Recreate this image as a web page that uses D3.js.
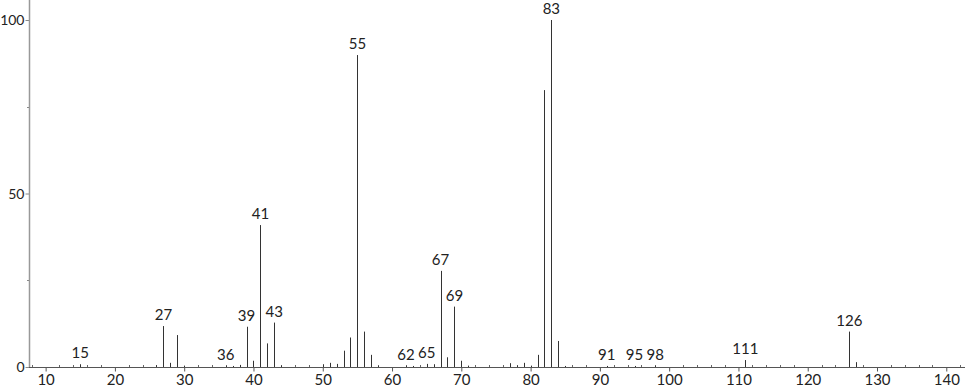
<!DOCTYPE html>
<html>
<head>
<meta charset="utf-8">
<script src="https://cdn.jsdelivr.net/npm/d3@7"></script>
<style>
  body { margin: 0; background: #fff; }
  svg text { font-family: "Lato", "DejaVu Sans", sans-serif; fill: #222; }
</style>
</head>
<body>
<svg id="chart" width="966" height="389"></svg>
<script>
// m/z and relative intensity
var mz = [15, 26, 27, 28, 29, 30, 36, 37, 38, 39, 40, 41, 42, 43, 44,
          50, 51, 52, 53, 54, 55, 56, 57, 58, 62, 63, 65, 66, 67, 68, 69, 70, 71,
          77, 78, 79, 80, 81, 82, 83, 84, 85, 91, 95, 98, 111, 126, 127];
var intensity = [0.8, 0.5, 11.8, 1.2, 9.2, 0.4, 0.3, 0.3, 0.6, 11.6, 1.8, 40.9, 6.8, 12.8, 0.4,
                 0.8, 1.2, 0.9, 4.7, 8.5, 89.9, 10.2, 3.5, 0.3, 0.3, 0.3, 0.9, 0.8, 27.7, 2.8, 17.4, 1.8, 0.4,
                 1.1, 0.4, 1.2, 0.4, 3.5, 79.8, 100, 7.5, 0.3, 0.3, 0.3, 0.3, 2.0, 10.2, 1.4];
var labelled = [15, 27, 36, 39, 41, 43, 55, 62, 65, 67, 69, 83, 91, 95, 98, 111, 126];
var xTicks = [10, 20, 30, 40, 50, 60, 70, 80, 90, 100, 110, 120, 130, 140];
var yTicks = [0, 50, 100];

var data = mz.map(function(d, i) { return {mz: d, v: intensity[i]}; });

var svg = d3.select("#chart");
var x = d3.scaleLinear().domain([7.6, 142.7]).range([29, 965]);
var y = d3.scaleLinear().domain([0, 100]).range([367, 20]);

// y axis
var yAxis = d3.axisLeft(y).tickValues(yTicks).tickSize(4).tickPadding(1).tickFormat(d3.format("d"));
var gy = svg.append("g").attr("transform", "translate(29.5,0)").call(yAxis);
gy.select(".domain").remove();
gy.append("line").attr("x1", 0).attr("x2", 0).attr("y1", 0).attr("y2", 367)
  .attr("stroke", "#999").attr("stroke-width", 1.5);
gy.selectAll(".tick line").attr("stroke", "#888");
gy.selectAll("text").style("font-size", "14px").attr("dy", "0.35em");
svg.append("g").selectAll("line").data([25, 75]).enter().append("line")
  .attr("x1", 27).attr("x2", 29)
  .attr("y1", function(d) { return Math.round(y(d)) + 0.5; })
  .attr("y2", function(d) { return Math.round(y(d)) + 0.5; })
  .attr("stroke", "#888");

// x axis
var xAxis = d3.axisBottom(x).tickValues(xTicks).tickSize(4).tickPadding(3).tickFormat(d3.format("d"));
var gx = svg.append("g").attr("transform", "translate(0,367.5)").call(xAxis);
gx.select(".domain").remove();
gx.append("line").attr("x1", 29).attr("x2", 965).attr("stroke", "#555");
gx.selectAll(".tick line").attr("stroke", "#555");
gx.selectAll("text").style("font-size", "15px");
// minor ticks
var minor = d3.range(8, 143, 2).filter(function(d) { return d % 10 !== 0; });
svg.append("g").selectAll("line").data(minor).enter().append("line")
  .attr("x1", function(d) { return Math.round(x(d)) + 0.5; })
  .attr("x2", function(d) { return Math.round(x(d)) + 0.5; })
  .attr("y1", 365).attr("y2", 367)
  .attr("stroke", "#666");

// peaks
svg.append("g").selectAll("line").data(data).enter().append("line")
  .attr("x1", function(d) { return Math.round(x(d.mz)) + 0.5; })
  .attr("x2", function(d) { return Math.round(x(d.mz)) + 0.5; })
  .attr("y1", 367)
  .attr("y2", function(d) { return y(d.v); })
  .attr("stroke", "#333").attr("stroke-width", 1);

// peak labels
svg.append("g").selectAll("text").data(data.filter(function(d) { return labelled.indexOf(d.mz) >= 0; }))
  .enter().append("text")
  .attr("x", function(d) { return x(d.mz); })
  .attr("y", function(d) { return y(d.v) - 6; })
  .attr("text-anchor", "middle")
  .style("font-size", "15px")
  .text(function(d) { return d.mz; });
</script>
</body>
</html>
